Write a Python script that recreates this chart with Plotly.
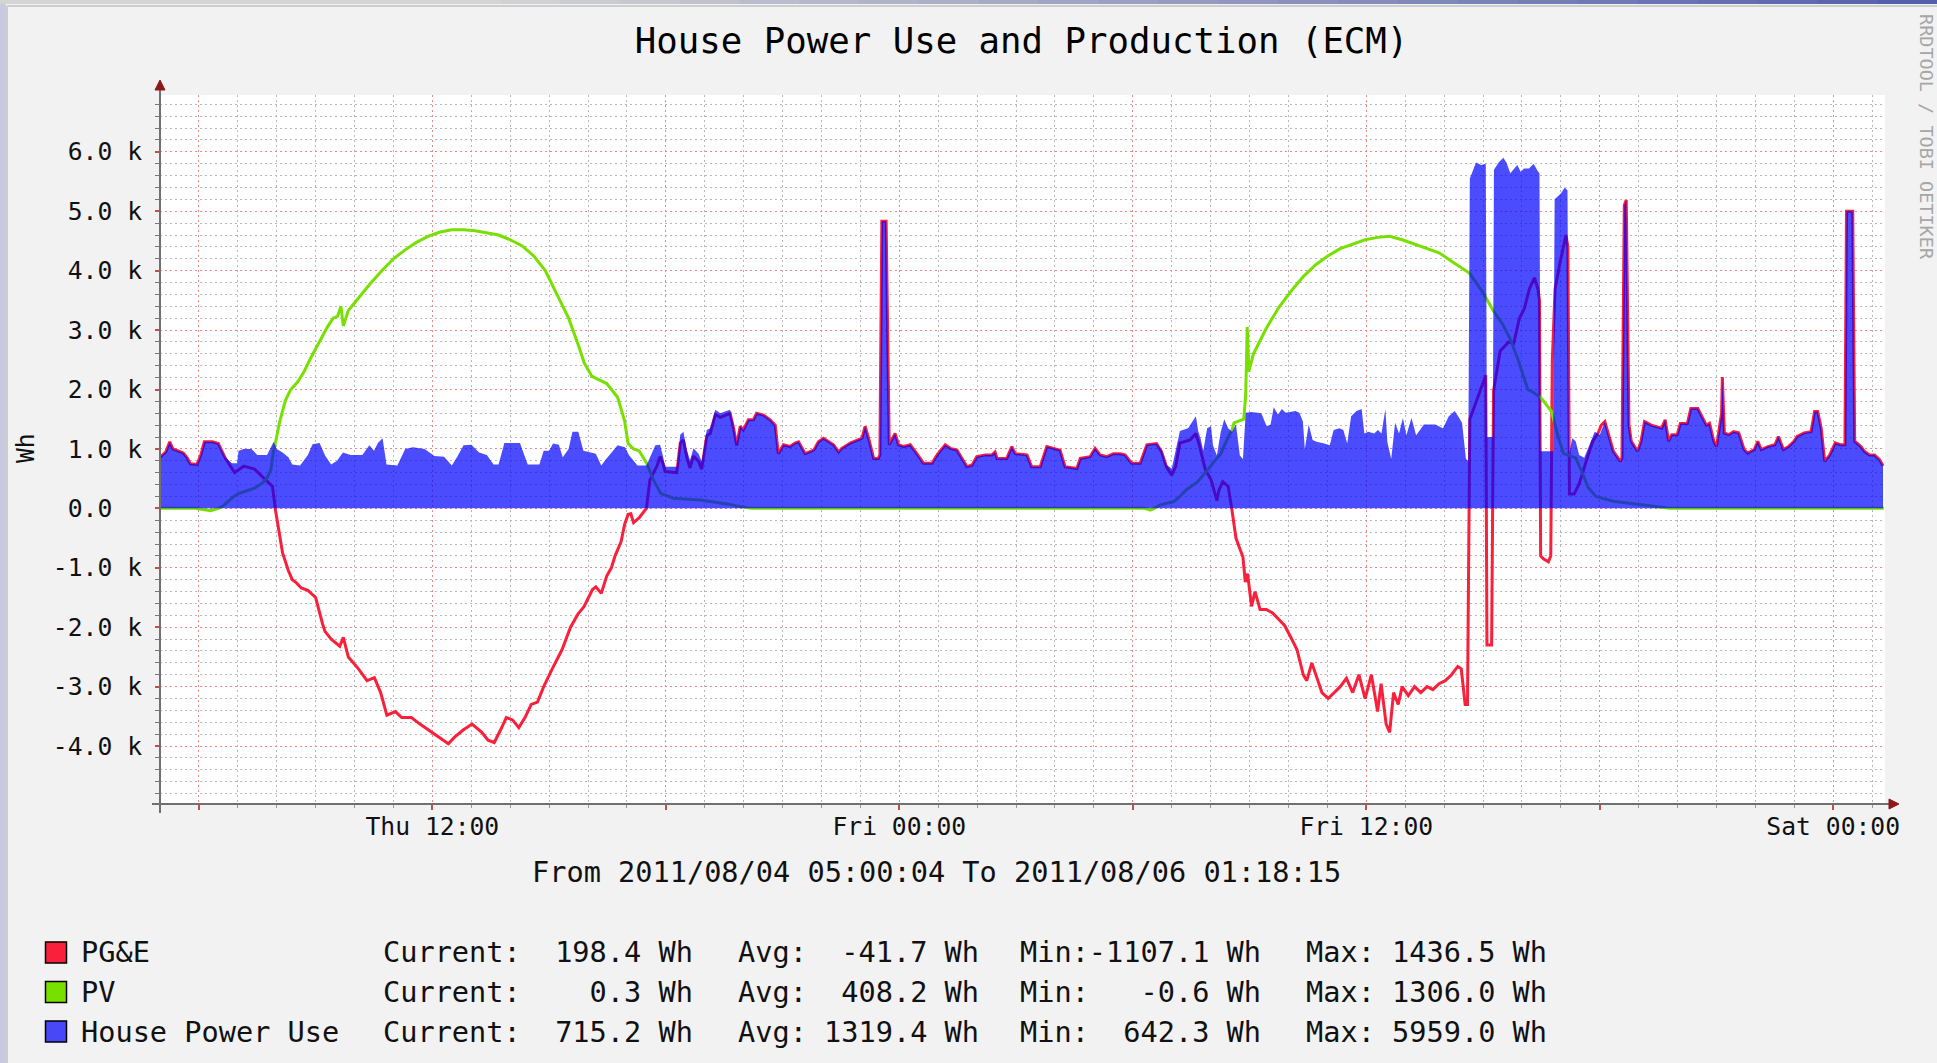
import plotly.graph_objects as go
import pandas as pd

# ---------------- data (hours after start, Wh) ----------------
START = "2011-08-04 05:00:04"
X_END = "2011-08-06 01:19:50"

HOUSE = [
    (0.0, 860), (0.15, 950), (0.25, 1120), (0.33, 1000), (0.45, 970), (0.6, 930), (0.7, 850),
    (0.78, 750), (0.95, 740), (1.05, 900), (1.14, 1120), (1.35, 1120), (1.5, 1090), (1.6, 950),
    (1.68, 860), (1.85, 760), (1.98, 760), (2.02, 970), (2.15, 1000), (2.35, 1000), (2.5, 900),
    (2.75, 900), (2.92, 1120), (3.0, 1000), (3.15, 940), (3.3, 860), (3.4, 740), (3.6, 720),
    (3.8, 900), (3.92, 1080), (4.1, 1100), (4.25, 880), (4.4, 740), (4.55, 800), (4.7, 940),
    (4.9, 900), (5.2, 900), (5.38, 1060), (5.5, 970), (5.6, 1100), (5.72, 1180), (5.82, 740),
    (6.1, 720), (6.3, 1000), (6.5, 1030), (6.8, 1000), (7.05, 880), (7.3, 870), (7.5, 720),
    (7.65, 880), (7.8, 1060), (8.0, 1070), (8.2, 940), (8.4, 900), (8.57, 740), (8.7, 740),
    (8.85, 1100), (9.25, 1100), (9.45, 740), (9.75, 740), (9.86, 970), (10.0, 970), (10.1, 1090),
    (10.25, 1070), (10.35, 860), (10.5, 1000), (10.6, 1290), (10.75, 1290), (10.88, 970),
    (11.2, 920), (11.34, 720), (11.45, 820), (11.76, 1060), (11.95, 1030), (12.05, 900),
    (12.27, 720), (12.5, 720), (12.73, 1060), (12.85, 1070), (12.93, 870), (12.98, 700),
    (13.28, 700), (13.37, 1240), (13.45, 1290), (13.54, 980), (13.62, 810), (13.71, 1010),
    (13.84, 920), (13.92, 790), (14.05, 1320), (14.14, 1350), (14.27, 1660), (14.4, 1600),
    (14.52, 1630), (14.65, 1660), (14.74, 1400), (14.82, 1100), (14.91, 1380), (14.99, 1320),
    (15.12, 1490), (15.25, 1490), (15.33, 1600), (15.51, 1570), (15.68, 1490), (15.81, 1400),
    (15.89, 920), (16.02, 1070), (16.19, 1040), (16.32, 1100), (16.41, 1120), (16.58, 920),
    (16.8, 980), (16.92, 1120), (17.05, 1180), (17.18, 1120), (17.31, 1070), (17.44, 950),
    (17.52, 1010), (17.74, 1100), (17.91, 1150), (18.04, 1180), (18.12, 1380), (18.21, 1180),
    (18.34, 840), (18.46, 840), (18.5, 900), (18.55, 4830), (18.66, 4830), (18.74, 1070),
    (18.89, 1260), (18.98, 1070), (19.11, 1040), (19.28, 1070), (19.45, 920), (19.62, 760),
    (19.84, 760), (19.97, 900), (20.18, 1070), (20.31, 1010), (20.48, 980), (20.61, 840),
    (20.74, 700), (20.87, 730), (20.99, 870), (21.21, 900), (21.38, 900), (21.46, 950),
    (21.51, 840), (21.76, 840), (21.89, 1040), (21.98, 920), (22.28, 900), (22.4, 700),
    (22.62, 700), (22.79, 1040), (22.96, 1010), (23.13, 980), (23.26, 700), (23.56, 670),
    (23.65, 840), (23.9, 870), (24.03, 1010), (24.16, 900), (24.33, 870), (24.5, 920),
    (24.67, 920), (24.8, 900), (24.97, 760), (25.19, 760), (25.36, 1070), (25.61, 1090),
    (25.74, 980), (25.87, 730), (26.0, 670), (26.21, 1300), (26.42, 1350),
    (26.62, 1550), (26.68, 1300), (26.74, 1180), (26.81, 970), (26.91, 1350), (27.01, 1380),
    (27.06, 1060), (27.16, 890), (27.26, 1290), (27.35, 1500), (27.45, 1350), (27.55, 1290),
    (27.65, 1410), (27.75, 890), (27.83, 830), (27.9, 1610), (28.04, 1620), (28.3, 1600),
    (28.44, 1380), (28.54, 1410), (28.62, 1700), (28.73, 1580), (28.83, 1670), (28.93, 1610),
    (29.18, 1640), (29.28, 1610), (29.37, 1460), (29.42, 1000), (29.52, 1410), (29.62, 1150),
    (29.72, 1120), (29.92, 1090), (30.06, 1060), (30.16, 1320), (30.31, 1350), (30.41, 1320),
    (30.51, 1090), (30.61, 1550), (30.75, 1640), (30.88, 1670), (30.95, 1260), (31.05, 1290),
    (31.2, 1260), (31.3, 1320), (31.39, 1260), (31.49, 1670), (31.54, 1120), (31.64, 830),
    (31.74, 1440), (31.84, 1260), (31.94, 1520), (32.03, 1230), (32.16, 1520), (32.28, 1230),
    (32.48, 1410), (32.77, 1410), (32.97, 1350), (33.12, 1550), (33.27, 1640), (33.36, 1550),
    (33.46, 1440), (33.56, 830), (33.62, 800), (33.66, 5550), (33.82, 5820), (33.95, 5780),
    (34.07, 5800), (34.1, 1200), (34.25, 1200), (34.28, 5700), (34.4, 5820), (34.52, 5900),
    (34.6, 5820), (34.7, 5640), (34.88, 5780), (34.97, 5660), (35.05, 5720), (35.18, 5720),
    (35.3, 5800), (35.4, 5680), (35.45, 5640), (35.48, 960), (35.8, 960), (35.84, 5200),
    (36.0, 5300), (36.1, 5400), (36.17, 5350), (36.21, 900), (36.29, 1180), (36.38, 1130),
    (36.47, 900), (36.6, 850), (36.74, 1070), (36.87, 1290), (37.0, 1240), (37.13, 1460),
    (37.22, 1240), (37.35, 960), (37.53, 790), (37.57, 850), (37.63, 5100), (37.68, 5190),
    (37.75, 1400), (37.81, 1130), (37.97, 960), (38.06, 1130), (38.15, 1460), (38.32, 1400),
    (38.59, 1350), (38.68, 1490), (38.77, 1130), (38.85, 1240), (38.99, 1240), (39.07, 1430),
    (39.25, 1430), (39.34, 1680), (39.52, 1680), (39.6, 1570), (39.74, 1400), (39.82, 1430),
    (39.93, 1130), (40.0, 1040), (40.09, 1400), (40.13, 1600), (40.15, 2210), (40.18, 1600),
    (40.2, 1270), (40.31, 1240), (40.44, 1290), (40.57, 1270), (40.71, 990), (40.8, 930),
    (40.97, 990), (41.06, 1130), (41.15, 990), (41.32, 1040), (41.5, 1070), (41.59, 1210),
    (41.72, 990), (41.85, 1040), (41.99, 1130), (42.07, 1210), (42.25, 1270), (42.43, 1290),
    (42.52, 1630), (42.6, 1630), (42.69, 1350), (42.78, 790), (42.91, 900), (43.05, 1100),
    (43.18, 1070), (43.3, 1070), (43.34, 5000), (43.5, 5000), (43.55, 1130), (43.71, 1040),
    (43.8, 960), (43.93, 900), (44.06, 900), (44.19, 820), (44.28, 715),
]

PV = [
    (0.0, 0), (0.9, 0), (1.1, -20), (1.3, -40), (1.5, 0), (1.6, 30), (1.88, 190), (2.02, 250),
    (2.25, 300), (2.43, 340), (2.62, 420), (2.75, 510), (2.85, 650), (2.91, 940), (2.99, 1180),
    (3.08, 1470), (3.22, 1810), (3.35, 1990), (3.54, 2130), (3.7, 2300), (3.85, 2500),
    (4.1, 2800), (4.3, 3050), (4.45, 3200), (4.56, 3230), (4.65, 3400), (4.71, 3070),
    (4.84, 3330), (5.1, 3540), (5.4, 3780), (5.7, 4000), (6.0, 4200), (6.3, 4350), (6.6, 4480),
    (6.9, 4580), (7.2, 4650), (7.5, 4690), (7.8, 4690), (8.1, 4670), (8.4, 4640), (8.7, 4600),
    (9.0, 4520), (9.3, 4420), (9.6, 4250), (9.9, 4000), (10.2, 3600), (10.5, 3200),
    (10.75, 2750), (10.9, 2450), (11.1, 2220), (11.48, 2100), (11.76, 1870), (11.94, 1470),
    (12.03, 1090), (12.17, 1000), (12.31, 970), (12.5, 770), (12.68, 480), (12.87, 250),
    (13.2, 170), (13.88, 140), (14.57, 75), (14.82, 40), (15.2, 0), (25.3, 0), (25.45, -30),
    (25.55, 0), (25.7, 60), (26.04, 110), (26.21, 200), (26.37, 310), (26.67, 450), (26.86, 600),
    (27.06, 770), (27.26, 920), (27.45, 1200), (27.55, 1320), (27.6, 1440), (27.75, 1470),
    (27.85, 1500), (27.9, 1900), (27.94, 3050), (27.98, 2300), (28.1, 2600), (28.43, 3030),
    (28.75, 3380), (29.06, 3650), (29.38, 3900), (29.7, 4100), (30.02, 4250), (30.33, 4370),
    (30.65, 4450), (30.97, 4520), (31.29, 4560), (31.6, 4580), (31.92, 4520), (32.24, 4450),
    (32.56, 4380), (32.87, 4300), (33.19, 4160), (33.5, 4030), (33.65, 3960), (34.0, 3630),
    (34.26, 3330), (34.5, 3100), (34.7, 2850), (34.9, 2500), (35.15, 2000), (35.3, 1950),
    (35.5, 1850), (35.76, 1630), (35.94, 1180), (36.07, 920), (36.38, 850), (36.55, 600),
    (36.7, 350), (36.9, 200), (37.35, 120), (38.06, 60), (38.8, 0), (44.3, 0),
]

PGE = [
    (0.0, 860), (0.15, 950), (0.25, 1120), (0.33, 1000), (0.45, 970), (0.6, 930), (0.7, 850),
    (0.78, 750), (0.95, 740), (1.05, 900), (1.14, 1120), (1.35, 1120), (1.5, 1090), (1.69, 830),
    (1.92, 600), (2.15, 710), (2.43, 660), (2.66, 510), (2.89, 370), (2.97, -40), (3.03, -300),
    (3.15, -750), (3.3, -1050), (3.4, -1200), (3.5, -1250), (3.63, -1340), (3.8, -1380),
    (4.0, -1500), (4.18, -1950), (4.24, -2070), (4.4, -2200), (4.62, -2320), (4.71, -2170),
    (4.84, -2500), (5.1, -2700), (5.32, -2900), (5.51, -2850), (5.67, -3100), (5.83, -3480),
    (6.05, -3420), (6.21, -3520), (6.46, -3520), (6.68, -3630), (6.9, -3730), (7.15, -3840),
    (7.41, -3960), (7.57, -3850), (7.79, -3730), (8.02, -3630), (8.27, -3770), (8.43, -3900),
    (8.59, -3940), (8.75, -3730), (8.9, -3520), (9.06, -3560), (9.22, -3690), (9.38, -3520),
    (9.54, -3300), (9.7, -3260), (9.86, -3000), (10.08, -2700), (10.33, -2380), (10.55, -2000),
    (10.74, -1780), (10.9, -1650), (11.11, -1370), (11.2, -1320), (11.34, -1430), (11.48, -1140),
    (11.6, -1000), (11.7, -790), (11.85, -560), (11.94, -270), (12.03, -100), (12.1, -90),
    (12.17, -240), (12.31, -160), (12.5, 0), (12.59, 480), (12.77, 710), (12.85, 870),
    (12.93, 750), (12.98, 620), (13.28, 600), (13.37, 1100), (13.45, 1150), (13.54, 850),
    (13.62, 680), (13.71, 880), (13.84, 790), (13.92, 660), (14.05, 1220), (14.14, 1260),
    (14.27, 1580), (14.4, 1530), (14.52, 1560), (14.65, 1600), (14.74, 1350), (14.82, 1060),
    (14.91, 1380), (14.99, 1320), (15.12, 1490), (15.25, 1490), (15.33, 1600), (15.51, 1570),
    (15.68, 1490), (15.81, 1400), (15.89, 920), (16.02, 1070), (16.19, 1040), (16.32, 1100),
    (16.41, 1120), (16.58, 920), (16.8, 980), (16.92, 1120), (17.05, 1180), (17.18, 1120),
    (17.31, 1070), (17.44, 950), (17.52, 1010), (17.74, 1100), (17.91, 1150), (18.04, 1180),
    (18.12, 1380), (18.21, 1180), (18.34, 840), (18.46, 840), (18.5, 900), (18.55, 4830),
    (18.66, 4830), (18.74, 1070), (18.89, 1260), (18.98, 1070), (19.11, 1040), (19.28, 1070),
    (19.45, 920), (19.62, 760), (19.84, 760), (19.97, 900), (20.18, 1070), (20.31, 1010),
    (20.48, 980), (20.61, 840), (20.74, 700), (20.87, 730), (20.99, 870), (21.21, 900),
    (21.38, 900), (21.46, 950), (21.51, 840), (21.76, 840), (21.89, 1040), (21.98, 920),
    (22.28, 900), (22.4, 700), (22.62, 700), (22.79, 1040), (22.96, 1010), (23.13, 980),
    (23.26, 700), (23.56, 670), (23.65, 840), (23.9, 870), (24.03, 1010), (24.16, 900),
    (24.33, 870), (24.5, 920), (24.67, 920), (24.8, 900), (24.97, 760), (25.19, 760),
    (25.36, 1070), (25.61, 1090), (25.74, 950), (25.87, 690), (26.0, 560), (26.1, 700),
    (26.21, 1100), (26.47, 1150), (26.62, 1260), (26.71, 1060), (26.86, 660), (27.01, 480),
    (27.16, 130), (27.21, 300), (27.31, 450), (27.45, 370), (27.55, -40), (27.65, -500),
    (27.75, -680), (27.83, -820), (27.89, -1240), (27.95, -1100), (28.05, -1650), (28.14, -1400),
    (28.27, -1700), (28.43, -1700), (28.59, -1760), (28.75, -1860), (28.9, -1970), (29.06, -2170),
    (29.22, -2380), (29.38, -2800), (29.47, -2900), (29.6, -2600), (29.7, -2800), (29.86, -3100),
    (30.02, -3200), (30.17, -3100), (30.33, -3000), (30.49, -2860), (30.65, -3100), (30.81, -2800),
    (30.97, -3200), (31.13, -2800), (31.29, -3420), (31.38, -2950), (31.51, -3630), (31.6, -3770),
    (31.7, -3100), (31.82, -3300), (31.92, -3000), (32.08, -3150), (32.24, -3000), (32.4, -3100),
    (32.56, -3000), (32.71, -3050), (32.87, -2950), (33.03, -2900), (33.19, -2800), (33.35, -2660),
    (33.44, -2700), (33.54, -3300), (33.6, -3300), (33.66, 1500), (33.73, 1630), (34.0, 2130),
    (34.07, 2240), (34.1, -2300), (34.22, -2300), (34.27, 1980), (34.44, 2650), (34.66, 2800),
    (34.79, 2780), (34.93, 3190), (35.06, 3360), (35.19, 3690), (35.32, 3880), (35.41, 3690),
    (35.45, 3500), (35.48, -800), (35.55, -850), (35.68, -900), (35.74, -800), (35.78, 2500),
    (35.85, 3690), (35.98, 4140), (36.13, 4600), (36.18, 4400), (36.22, 240), (36.34, 240),
    (36.47, 410), (36.65, 790), (36.82, 1130), (36.96, 1270), (37.04, 1400), (37.13, 1460),
    (37.22, 1240), (37.35, 960), (37.53, 790), (37.57, 850), (37.63, 5100), (37.68, 5190),
    (37.75, 1400), (37.81, 1130), (37.97, 960), (38.06, 1130), (38.15, 1460), (38.32, 1400),
    (38.59, 1350), (38.68, 1490), (38.77, 1130), (38.85, 1240), (38.99, 1240), (39.07, 1430),
    (39.25, 1430), (39.34, 1680), (39.52, 1680), (39.6, 1570), (39.74, 1400), (39.82, 1430),
    (39.93, 1130), (40.0, 1040), (40.09, 1400), (40.13, 1600), (40.15, 2210), (40.18, 1600),
    (40.2, 1270), (40.31, 1240), (40.44, 1290), (40.57, 1270), (40.71, 990), (40.8, 930),
    (40.97, 990), (41.06, 1130), (41.15, 990), (41.32, 1040), (41.5, 1070), (41.59, 1210),
    (41.72, 990), (41.85, 1040), (41.99, 1130), (42.07, 1210), (42.25, 1270), (42.43, 1290),
    (42.52, 1630), (42.6, 1630), (42.69, 1350), (42.78, 790), (42.91, 900), (43.05, 1100),
    (43.18, 1070), (43.3, 1070), (43.34, 5000), (43.5, 5000), (43.55, 1130), (43.71, 1040),
    (43.8, 960), (43.93, 900), (44.06, 900), (44.19, 820), (44.28, 715),
]

Y_TICK_VALUES = [-4000, -3000, -2000, -1000, 0, 1000, 2000, 3000, 4000, 5000, 6000]
Y_TICK_LABELS = ["-4.0 k", "-3.0 k", "-2.0 k", "-1.0 k", "0.0  ", "1.0 k", "2.0 k",
                 "3.0 k", "4.0 k", "5.0 k", "6.0 k"]
X_TICK_TIMES = ["2011-08-04 06:00", "2011-08-04 12:00", "2011-08-04 18:00", "2011-08-05 00:00",
                "2011-08-05 06:00", "2011-08-05 12:00", "2011-08-05 18:00", "2011-08-06 00:00"]
X_TICK_LABELS = ["", "Thu 12:00", "", "Fri 00:00", "", "Fri 12:00", "", "Sat 00:00"]

SERIES_NAMES = ["PG&E", "PV", "House Power Use"]
STAT_CURRENT = ["198.4", "0.3", "715.2"]
STAT_AVG = ["-41.7", "408.2", "1319.4"]
STAT_MIN = ["-1107.1", "-0.6", "642.3"]
STAT_MAX = ["1436.5", "1306.0", "5959.0"]

TITLE = "House Power Use and Production (ECM)"
SUBTITLE = "From 2011/08/04 05:00:04 To 2011/08/06 01:18:15"
Y_LABEL = "Wh"
WATERMARK = "RRDTOOL / TOBI OETIKER"

# ---------------- styling ----------------
W, H = 1937, 1063
L, R, T, B = 160, 1885, 95, 804
MONO = "DejaVu Sans Mono"
RED = "#f8203a"
GREEN = "#78e000"
BLUE_FILL = "rgba(0,0,255,0.70)"
BG = "#f2f2f2"


def px(x):
    return (x - L) / (R - L)


def py(y):
    return (B - y) / (B - T)


def nb(s):
    return s.replace(" ", "\u00a0")


t0 = pd.Timestamp(START)


def to_time(pairs):
    hrs = [p[0] for p in pairs]
    vals = [p[1] for p in pairs]
    return t0 + pd.to_timedelta(hrs, unit="h"), vals


pge_x, pge_y = to_time(PGE)
pv_x, pv_y = to_time(PV)
house_x, house_y = to_time(HOUSE)

fig = go.Figure()
fig.add_trace(go.Scatter(x=pge_x, y=pge_y, mode="lines", name=SERIES_NAMES[0],
                         line=dict(color=RED, width=3), showlegend=False))
fig.add_trace(go.Scatter(x=pv_x, y=pv_y, mode="lines", name=SERIES_NAMES[1],
                         line=dict(color=GREEN, width=3), showlegend=False))
fig.add_trace(go.Scatter(x=house_x, y=house_y, mode="lines", name=SERIES_NAMES[2],
                         line=dict(width=0, color=BLUE_FILL), fill="tozeroy",
                         fillcolor=BLUE_FILL, showlegend=False))

MAJOR_GRID = "#e58a8a"
MINOR_GRID = "#b8b8b8"

fig.update_layout(
    width=W, height=H,
    margin=dict(l=L, r=W - R, t=T, b=H - B, pad=0),
    paper_bgcolor=BG, plot_bgcolor="#ffffff",
    font=dict(family=MONO, color="#111111"),
    title=dict(text=TITLE, x=1021.6 / W, y=1 - 40.8 / H, xref="container", yref="container",
               xanchor="center", yanchor="middle", font=dict(family=MONO, size=35.7, color="#000")),
    xaxis=dict(
        type="date", range=[START, X_END], tickmode="array",
        tickvals=X_TICK_TIMES, ticktext=X_TICK_LABELS,
        ticks="outside", ticklen=5, tickwidth=1.5, tickcolor="#c05050",
        tickfont=dict(family=MONO, size=24.7, color="#111"),
        showgrid=True, gridcolor=MAJOR_GRID, gridwidth=1, griddash="2px,3px",
        zeroline=False, showline=False,
        minor=dict(dtick=3600000, tick0="2011-08-04 00:00", ticks="outside", ticklen=3,
                   tickcolor="#999999", tickwidth=1, showgrid=True, gridcolor=MINOR_GRID,
                   griddash="2px,3px", gridwidth=1),
        ticklabelstandoff=-5,
    ),
    yaxis=dict(
        range=[-4975, 6956], tickmode="array", tickvals=Y_TICK_VALUES,
        ticktext=[nb(s) for s in Y_TICK_LABELS],
        ticks="outside", ticklen=4, tickwidth=1.5, tickcolor="#c05050",
        tickfont=dict(family=MONO, size=24.7, color="#111"),
        showgrid=True, gridcolor=MAJOR_GRID, gridwidth=1, griddash="2px,3px",
        zeroline=False, showline=False,
        minor=dict(dtick=200, tick0=0, ticks="outside", ticklen=4, tickcolor="#777777",
                   tickwidth=1, showgrid=True, gridcolor=MINOR_GRID, griddash="2px,3px",
                   gridwidth=1),
        ticklabelstandoff=8,
    ),
)

shapes = []
# screenshot frame bits
shapes.append(dict(type="rect", xref="paper", yref="paper", x0=px(0), x1=px(6), y0=py(H), y1=py(0),
                   fillcolor="#c8cadf", line=dict(width=0), layer="above"))
nseg = 24
for i in range(nseg):
    x0 = 500 + (W - 500) * i / nseg
    x1 = 500 + (W - 500) * (i + 1) / nseg
    f = (i + 0.5) / nseg
    r = int(212 + (82 - 212) * f)
    g = int(212 + (94 - 212) * f)
    b = int(212 + (172 - 212) * f)
    shapes.append(dict(type="rect", xref="paper", yref="paper", x0=px(x0), x1=px(x1 + 1),
                       y0=py(4), y1=py(0), fillcolor=f"rgb({r},{g},{b})", line=dict(width=0),
                       layer="above"))
shapes.append(dict(type="rect", xref="paper", yref="paper", x0=px(0), x1=px(501), y0=py(4), y1=py(0),
                   fillcolor="#d4d4d4", line=dict(width=0), layer="above"))
shapes.append(dict(type="line", xref="paper", yref="paper", x0=px(7), x1=px(W), y0=py(6), y1=py(6),
                   line=dict(color="#cdcdcd", width=2), layer="above"))
shapes.append(dict(type="line", xref="paper", yref="paper", x0=px(7), x1=px(7), y0=py(6), y1=py(H),
                   line=dict(color="#cdcdcd", width=2), layer="above"))

# axes with arrows
AXIS = "#707070"
ARROW = "#8a1a1a"
shapes.append(dict(type="line", xref="paper", yref="paper", x0=px(152), x1=px(1890), y0=py(B), y1=py(B),
                   line=dict(color=AXIS, width=2), layer="above"))
shapes.append(dict(type="line", xref="paper", yref="paper", x0=px(L), x1=px(L), y0=py(813), y1=py(88),
                   line=dict(color=AXIS, width=2), layer="above"))
shapes.append(dict(type="path", xref="paper", yref="paper",
                   path=f"M {px(1899)} {py(B)} L {px(1889)} {py(B - 5)} L {px(1889)} {py(B + 5)} Z",
                   fillcolor=ARROW, line=dict(color=ARROW, width=1), layer="above"))
shapes.append(dict(type="path", xref="paper", yref="paper",
                   path=f"M {px(L)} {py(80)} L {px(L - 5)} {py(90)} L {px(L + 5)} {py(90)} Z",
                   fillcolor=ARROW, line=dict(color=ARROW, width=1), layer="above"))

# legend boxes
ROW_Y = [952.4, 992.0, 1031.5]
BOX_COLORS = [RED, GREEN, "#4848f8"]
for yc, c in zip(ROW_Y, BOX_COLORS):
    shapes.append(dict(type="rect", xref="paper", yref="paper", x0=px(45.5), x1=px(66.5),
                       y0=py(yc + 10.5), y1=py(yc - 10.5), fillcolor=c,
                       line=dict(color="#000000", width=1.5), layer="above"))

annotations = []


def ann(text, x, y, size, xanchor="left", color="#111111", angle=0):
    annotations.append(dict(text=nb(text), x=px(x), y=py(y), xref="paper", yref="paper",
                            showarrow=False, xanchor=xanchor, yanchor="middle",
                            textangle=angle, font=dict(family=MONO, size=size, color=color)))


ann(SUBTITLE, 936, 872, 28.6, xanchor="center")
ann(Y_LABEL, 25, 448, 24.7, xanchor="center", angle=-90)
ann(WATERMARK, 1927, 137, 18.5, xanchor="center", color="#a6a6a6", angle=90)

for i in range(3):
    yc = ROW_Y[i]
    ann(SERIES_NAMES[i], 78.5, yc, 28.6)
    ann(f"Current:{STAT_CURRENT[i]:>7} Wh", 381, yc, 28.6)
    ann(f"Avg:{STAT_AVG[i]:>7} Wh", 735.5, yc, 28.6)
    ann(f"Min:{STAT_MIN[i]:>7} Wh", 1018, yc, 28.6)
    ann(f"Max:{STAT_MAX[i]:>7} Wh", 1303.7, yc, 28.6)

fig.update_layout(shapes=shapes, annotations=annotations)
fig.write_html(
    "out.html",
    config={"displayModeBar": False},
    post_script="document.body.style.margin='0px';document.documentElement.style.overflow='hidden';",
)
